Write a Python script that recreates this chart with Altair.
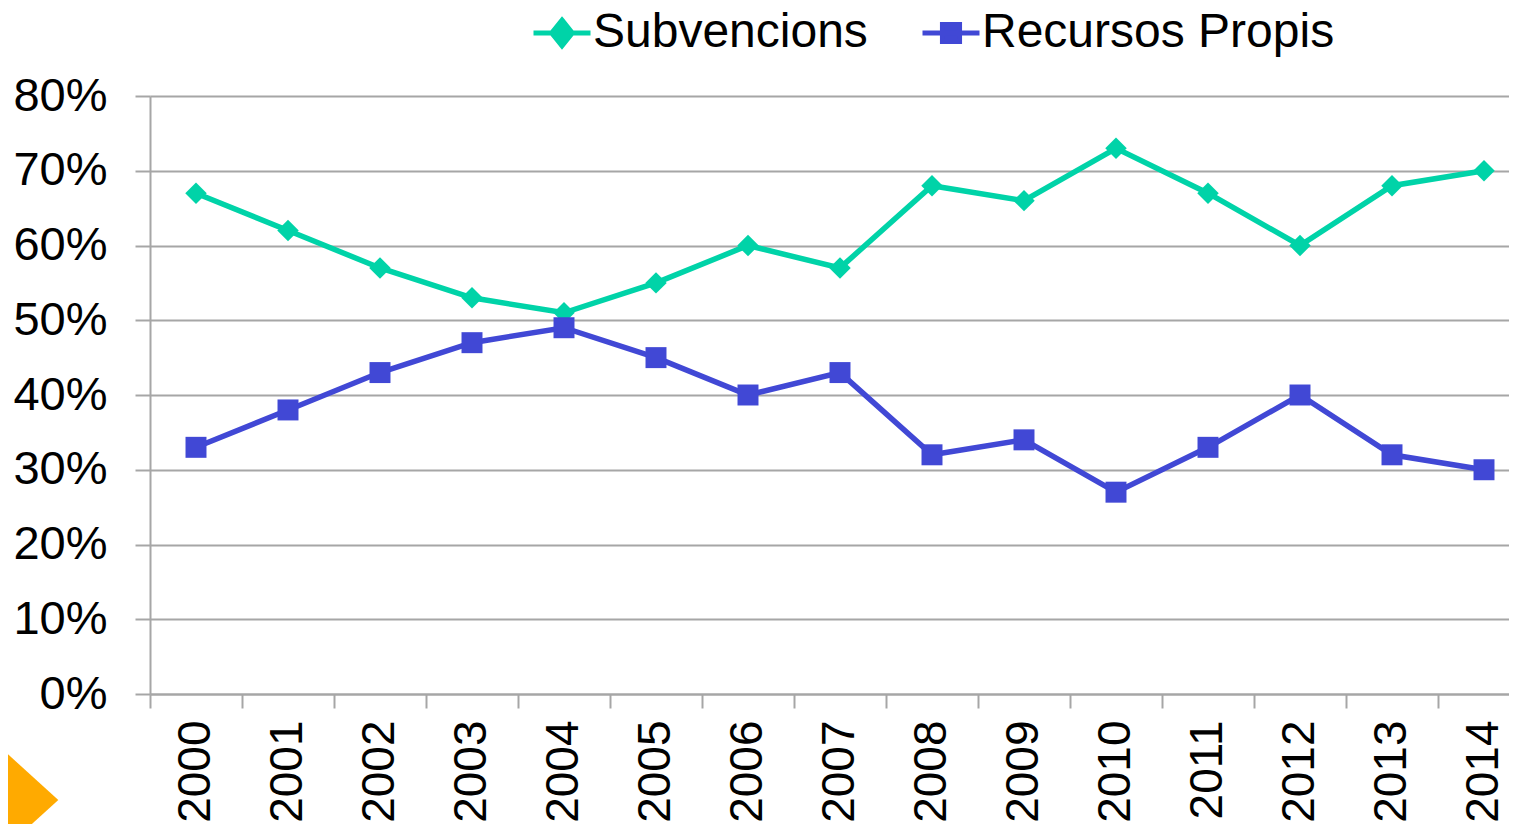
import altair as alt
import pandas as pd

years = [str(y) for y in range(2000, 2015)]
subvencions = [67, 62, 57, 53, 51, 55, 60, 57, 68, 66, 73, 67, 60, 68, 70]
recursos = [33, 38, 43, 47, 49, 45, 40, 43, 32, 34, 27, 33, 40, 32, 30]
series_names = ["Subvencions", "Recursos Propis"]
series_colors = ["#00D3A8", "#4148D5"]
y_ticks = [0, 0.1, 0.2, 0.3, 0.4, 0.5, 0.6, 0.7, 0.8]

df = pd.DataFrame({
    "year": years * 2,
    "value": [v / 100 for v in subvencions + recursos],
    "series": [series_names[0]] * len(years) + [series_names[1]] * len(years),
})

FONT = "Liberation Sans"
GRAY = "#A6A6A6"

x_enc = alt.X(
    "year:O",
    bandPosition=0.5,
    scale=alt.Scale(type="band", range=[0, 1380], paddingInner=0, paddingOuter=0),
    axis=alt.Axis(
        title=None, labelAngle=-90, bandPosition=0,
        labelFontSize=46, labelFont=FONT, labelColor="black",
        labelPadding=12, tickSize=14, tickColor=GRAY, tickWidth=2,
        domainColor=GRAY, domainWidth=2, grid=False,
    ),
)
y_axis = alt.Axis(
    title=None, values=y_ticks, format=".0%",
    labelFontSize=47, labelFont=FONT, labelColor="black",
    labelPadding=28, tickSize=15, tickColor=GRAY, tickWidth=2,
    domainColor=GRAY, domainWidth=2,
    grid=True, gridColor=GRAY, gridWidth=2,
)
y_enc = alt.Y("value:Q", scale=alt.Scale(domain=[0, 0.8]), axis=y_axis)
color_scale = alt.Scale(domain=series_names, range=series_colors)

legend_paths = [
    "M-1,0H1M0,-0.45L0.36,0L0,0.45L-0.36,0Z",
    "M-1,0H1M-0.3,-0.3H0.3V0.3H-0.3Z",
]
legend_props = dict(
    title=None, orient="none", legendX=381, legendY=-94, direction="horizontal",
    labelFontSize=48, labelFont=FONT, labelColor="black", labelLimit=0,
    symbolSize=3249, symbolStrokeWidth=5, labelOffset=0, columnPadding=44, padding=0,
)

base = alt.Chart(df)

lines = base.mark_line(strokeWidth=5.5).encode(
    x=x_enc, y=y_enc,
    color=alt.Color("series:N", scale=color_scale, legend=alt.Legend(**legend_props)),
    detail="series:N",
)

pts_sub = base.transform_filter(
    alt.datum.series == series_names[0]
).mark_point(filled=True, opacity=1, size=460, shape="diamond").encode(
    x=x_enc, y=y_enc,
    color=alt.Color("series:N", scale=color_scale, legend=alt.Legend(**legend_props)),
)
pts_rec = base.transform_filter(
    alt.datum.series == series_names[1]
).mark_point(filled=True, opacity=1, size=440, shape="square").encode(
    x=x_enc, y=y_enc,
    color=alt.Color("series:N", scale=color_scale, legend=alt.Legend(**legend_props)),
)

# legend-only layer: its marks are pushed far outside the visible area
legend_layer = base.transform_calculate(
    hidden="datum.value - 100"
).mark_point(filled=True, opacity=1, strokeWidth=5).encode(
    x=x_enc,
    y=alt.Y("hidden:Q", scale=alt.Scale(domain=[0, 0.8]), axis=y_axis),
    color=alt.Color("series:N", scale=color_scale, legend=alt.Legend(**legend_props)),
    stroke=alt.Stroke("series:N", scale=color_scale, legend=alt.Legend(**legend_props)),
    shape=alt.Shape("series:N", scale=alt.Scale(domain=series_names, range=legend_paths),
                    legend=alt.Legend(**legend_props)),
)

deco = alt.Chart(pd.DataFrame({"d": [0]})).mark_point(
    shape="M0,-1L1.1,0L0,1Z", filled=True, opacity=1, color="#FFAA00", size=11236
).encode(x=alt.value(-150), y=alt.value(704))

chart = alt.layer(lines, pts_sub, pts_rec, legend_layer, deco).properties(
    width=1359, height=598,
    autosize=alt.AutoSizeParams(type="none"),
    padding={"left": 142, "top": 88, "right": 0, "bottom": 130},
).configure_view(stroke=None)

chart.save("out.html", embed_options={"renderer": "svg", "actions": False})
